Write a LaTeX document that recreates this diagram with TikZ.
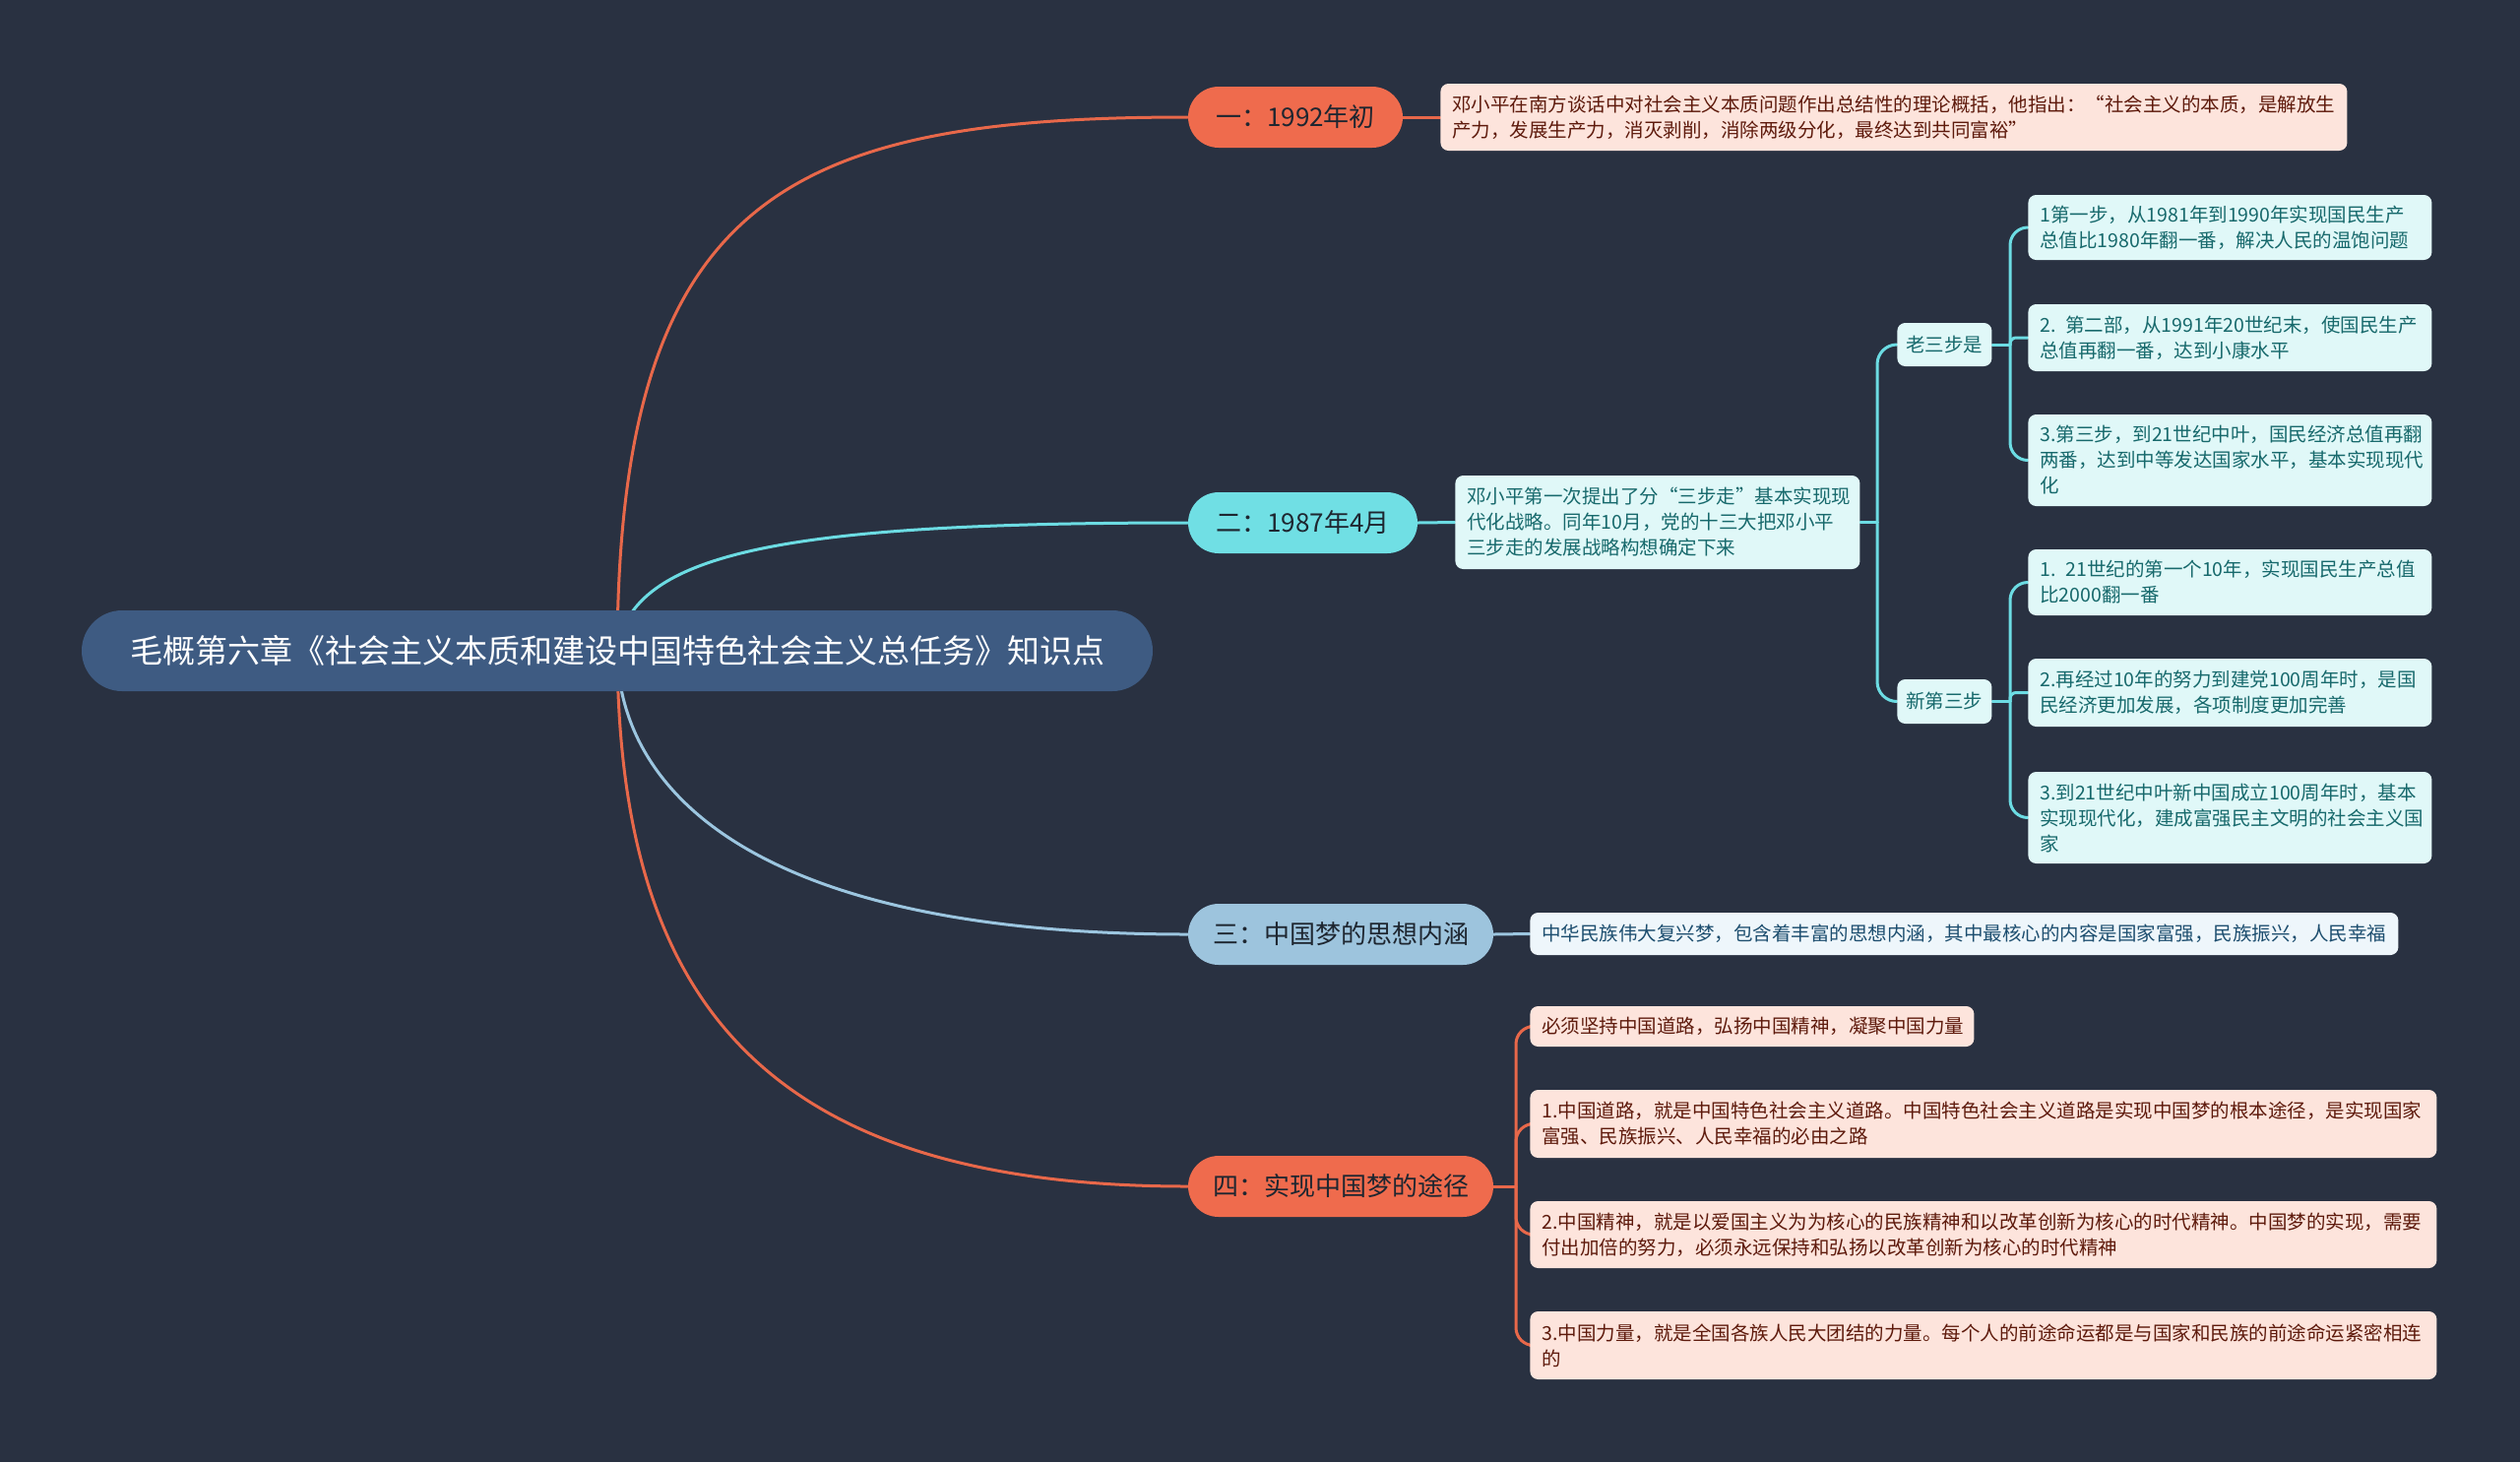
\documentclass[tikz,border=0pt]{standalone}
\usepackage{fontspec}
\setmainfont{Noto Sans CJK SC}
\usetikzlibrary{positioning}
\definecolor{bgc}{HTML}{293141}
\definecolor{rootc}{HTML}{3E5B82}
\definecolor{coral}{HTML}{EF6B4D}
\definecolor{coralline}{HTML}{E8684A}
\definecolor{coralleaf}{HTML}{FDE4DC}
\definecolor{coraltext}{HTML}{5E1A0C}
\definecolor{cyanc}{HTML}{70DFE4}
\definecolor{cyanline}{HTML}{6CDCE3}
\definecolor{cyanleaf}{HTML}{E0F8F8}
\definecolor{cyantext}{HTML}{17696C}
\definecolor{bluec}{HTML}{9DC4DD}
\definecolor{blueline}{HTML}{9CC6E0}
\definecolor{blueleaf}{HTML}{EEF6FB}
\definecolor{bluetext}{HTML}{1D4E6F}
\definecolor{darktext}{HTML}{1E2630}
\pgfdeclarelayer{bgfill}
\pgfdeclarelayer{edges}
\pgfsetlayers{bgfill,edges,main}
\tikzset{
  rootbox/.style={fill=rootc, text=white, rounded corners=20.5pt, minimum width=544pt, minimum height=41pt, inner sep=0pt, font=\fontsize{16.5pt}{20pt}\selectfont},
  branchbox/.style={rounded corners=15.5pt, minimum height=31pt, inner sep=0pt, text=darktext, font=\fontsize{13pt}{16pt}\selectfont},
  leafbox/.style={anchor=west, rounded corners=4pt, inner xsep=6pt, inner ysep=0pt, align=left, font=\fontsize{9.75pt}{13pt}\selectfont},
  midbox/.style={anchor=west, rounded corners=4pt, inner sep=0pt, align=center, minimum width=48pt, font=\fontsize{9.75pt}{13pt}\selectfont},
  orl/.style={leafbox, fill=coralleaf, text=coraltext},
  cyl/.style={leafbox, fill=cyanleaf, text=cyantext},
  bll/.style={leafbox, fill=blueleaf, text=bluetext},
  conn/.style={line width=1.5pt, line cap=round},
}
\begin{document}
\begin{tikzpicture}[x=0.5pt,y=-0.5pt]
\begin{pgfonlayer}{bgfill}
\fill[bgc] (0,0) rectangle (2560,1485);
\end{pgfonlayer}
\useasboundingbox (0,0) rectangle (2560,1485);

% root
\node[rootbox] (root) at (627,661) {毛概第六章《社会主义本质和建设中国特色社会主义总任务》知识点};

% branches
\node[branchbox, fill=coral, minimum width=109pt] (b1) at (1316,119) {一：1992年初};
\node[branchbox, fill=cyanc, minimum width=116.5pt] (b2) at (1323.5,531) {二：1987年4月};
\node[branchbox, fill=bluec, minimum width=155pt] (b3) at (1362,949) {三：中国梦的思想内涵};
\node[branchbox, fill=coral, minimum width=155pt] (b4) at (1362,1205) {四：实现中国梦的途径};

% branch 1 leaf
\node[orl, minimum width=460.5pt, minimum height=34pt, text width=448.5pt] (l1) at (1463,119) {邓小平在南方谈话中对社会主义本质问题作出总结性的理论概括，他指出：“社会主义的本质，是解放生\\产力，发展生产力，消灭剥削，消除两级分化，最终达到共同富裕”};

% branch 2
\node[cyl, minimum width=205.5pt, minimum height=47.5pt, text width=193.5pt] (l2) at (1478,530.5) {邓小平第一次提出了分“三步走”基本实现现\\代化战略。同年10月，党的十三大把邓小平\\三步走的发展战略构想确定下来};
\node[midbox, fill=cyanleaf, text=cyantext, minimum height=22pt] (m1) at (1927,350) {老三步是};
\node[midbox, fill=cyanleaf, text=cyantext, minimum height=22.5pt] (m2) at (1927,712.5) {新第三步};
\node[cyl, minimum width=205pt, minimum height=33pt, text width=193pt] (o1) at (2060,231) {1第一步，从1981年到1990年实现国民生产\\总值比1980年翻一番，解决人民的温饱问题};
\node[cyl, minimum width=205pt, minimum height=34pt, text width=193pt] (o2) at (2060,343) {2. 第二部，从1991年20世纪末，使国民生产\\总值再翻一番，达到小康水平};
\node[cyl, minimum width=205pt, minimum height=46.5pt, text width=193pt] (o3) at (2060,467.5) {3.第三步，到21世纪中叶，国民经济总值再翻\\两番，达到中等发达国家水平，基本实现现代\\化};
\node[cyl, minimum width=205pt, minimum height=33.5pt, text width=193pt] (n1) at (2060,591.5) {1. 21世纪的第一个10年，实现国民生产总值\\比2000翻一番};
\node[cyl, minimum width=205pt, minimum height=34.5pt, text width=193pt] (n2) at (2060,703.5) {2.再经过10年的努力到建党100周年时，是国\\民经济更加发展，各项制度更加完善};
\node[cyl, minimum width=205pt, minimum height=46.5pt, text width=193pt] (n3) at (2060,830.5) {3.到21世纪中叶新中国成立100周年时，基本\\实现现代化，建成富强民主文明的社会主义国\\家};

% branch 3
\node[bll, minimum width=441pt, minimum height=21.5pt, text width=429pt] (l3) at (1554,948.5) {中华民族伟大复兴梦，包含着丰富的思想内涵，其中最核心的内容是国家富强，民族振兴，人民幸福};

% branch 4
\node[orl, minimum width=225.5pt, minimum height=20.5pt, text width=213.5pt] (f1) at (1554,1042.5) {必须坚持中国道路，弘扬中国精神，凝聚中国力量};
\node[orl, minimum width=460.5pt, minimum height=34.5pt, text width=448.5pt] (f2) at (1554,1141.5) {1.中国道路，就是中国特色社会主义道路。中国特色社会主义道路是实现中国梦的根本途径，是实现国家\\富强、民族振兴、人民幸福的必由之路};
\node[orl, minimum width=460.5pt, minimum height=34pt, text width=448.5pt] (f3) at (1554,1254) {2.中国精神，就是以爱国主义为为核心的民族精神和以改革创新为核心的时代精神。中国梦的实现，需要\\付出加倍的努力，必须永远保持和弘扬以改革创新为核心的时代精神};
\node[orl, minimum width=460.5pt, minimum height=34.5pt, text width=448.5pt] (f4) at (1554,1366.5) {3.中国力量，就是全国各族人民大团结的力量。每个人的前途命运都是与国家和民族的前途命运紧密相连\\的};

% connector junctions
\coordinate (j2) at (1907,530.5);
\coordinate (jm1) at (2042,350);
\coordinate (jm2) at (2042,712.5);
\coordinate (j4) at (1540,1205);

\begin{pgfonlayer}{edges}
\draw[conn, coralline] (root.center) .. controls (629,200) and (800,119) .. (b1.west);
\draw[conn, cyanline] (root.center) .. controls (640,560) and (800,531) .. (b2.west);
\draw[conn, blueline] (root.center) .. controls (629,800) and (760,949) .. (b3.west);
\draw[conn, coralline] (root.center) .. controls (629,1000) and (760,1205) .. (b4.west);

\draw[conn, coralline] (b1.east) -- (l1.west);
\draw[conn, cyanline] (b2.east) -- (l2.west);
\draw[conn, blueline] (b3.east) -- (l3.west);

\draw[conn, cyanline] (l2.east) -- (j2);
\draw[conn, cyanline, rounded corners=10pt] (j2) -- (j2 |- m1.west) -- (m1.west);
\draw[conn, cyanline, rounded corners=10pt] (j2) -- (j2 |- m2.west) -- (m2.west);

\draw[conn, cyanline] (m1.east) -- (jm1);
\draw[conn, cyanline, rounded corners=9pt] (jm1) -- (jm1 |- o1.west) -- (o1.west);
\draw[conn, cyanline, rounded corners=3pt] (jm1) -- (jm1 |- o2.west) -- (o2.west);
\draw[conn, cyanline, rounded corners=9pt] (jm1) -- (jm1 |- o3.west) -- (o3.west);

\draw[conn, cyanline] (m2.east) -- (jm2);
\draw[conn, cyanline, rounded corners=9pt] (jm2) -- (jm2 |- n1.west) -- (n1.west);
\draw[conn, cyanline, rounded corners=3pt] (jm2) -- (jm2 |- n2.west) -- (n2.west);
\draw[conn, cyanline, rounded corners=9pt] (jm2) -- (jm2 |- n3.west) -- (n3.west);

\draw[conn, coralline] (b4.east) -- (j4);
\draw[conn, coralline, rounded corners=9pt] (j4) -- (j4 |- f1.west) -- (f1.west);
\draw[conn, coralline, rounded corners=9pt] (j4) -- (j4 |- f2.west) -- (f2.west);
\draw[conn, coralline, rounded corners=9pt] (j4) -- (j4 |- f3.west) -- (f3.west);
\draw[conn, coralline, rounded corners=9pt] (j4) -- (j4 |- f4.west) -- (f4.west);
\end{pgfonlayer}
\end{tikzpicture}
\end{document}
